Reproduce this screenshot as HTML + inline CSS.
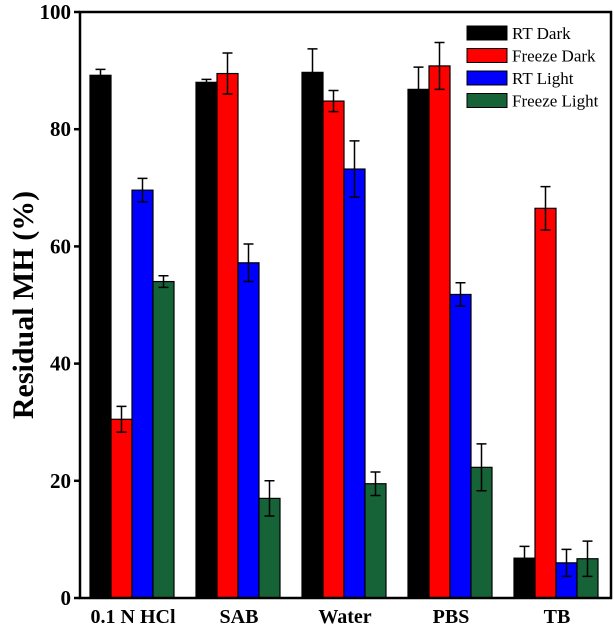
<!DOCTYPE html>
<html><head><meta charset="utf-8"><style>
body{margin:0;background:#fff}
svg{display:block;font-family:"Liberation Serif",serif}
</style></head><body>
<svg id="c" width="614" height="634"></svg>
<script>
const categories=["0.1 N HCl","SAB","Water","PBS","TB"];
const seriesNames=["RT Dark","Freeze Dark","RT Light","Freeze Light"];
const rtDark=[89.2,88,89.7,86.8,6.8];
const freezeDark=[30.5,89.5,84.8,90.8,66.5];
const rtLight=[69.6,57.2,73.2,51.8,6];
const freezeLight=[54,17,19.5,22.3,6.7];
const rtDarkErr=[1,0.5,4,3.8,2];
const freezeDarkErr=[2.2,3.5,1.8,4,3.7];
const rtLightErr=[2,3.2,4.8,2,2.3];
const freezeLightErr=[1,3,2,4,3];
const yTicks=[0,20,40,60,80,100];
const colors=["#000000","#ff0000","#0000ff","#176338"];
const values=[rtDark,freezeDark,rtLight,freezeLight];
const errs=[rtDarkErr,freezeDarkErr,rtLightErr,freezeLightErr];

const NS="http://www.w3.org/2000/svg",svg=document.getElementById('c');
const X0=80,X1=611,Y0=598,Y1=12;
const y=v=>Y0-(v/100)*(Y0-Y1);
const bw=21;
const gs=i=>90+i*106;
function mk(t,a,p){const e=document.createElementNS(NS,t);for(const k in a)e.setAttribute(k,a[k]);(p||svg).appendChild(e);return e;}

values.forEach((vals,s)=>{
  vals.forEach((v,i)=>{
    const x=gs(i)+s*bw;
    const r=mk('rect',{x:x,y:y(v),width:bw,height:Y0-y(v),fill:colors[s],stroke:'#000','stroke-width':1.2});
    
    
    const e=errs[s][i],m=x+bw/2;
    const g=mk('path',{d:`M${m},${y(v+e)}V${y(v-e)}M${m-5},${y(v+e)}H${m+5}M${m-5},${y(v-e)}H${m+5}`,stroke:'#000','stroke-width':1.5,fill:'none'});
    
    
  });
});
const f=mk('rect',{x:X0,y:Y1,width:X1-X0,height:Y0-Y1,fill:'none',stroke:'#000','stroke-width':2.5});


yTicks.forEach(t=>{
  mk('line',{x1:X0-6,x2:X0,y1:y(t),y2:y(t),stroke:'#000','stroke-width':2.5});
  const l=mk('text',{x:X0-9,y:y(t)+7,'text-anchor':'end','font-size':21,'font-weight':'bold'});
  l.textContent=t;
  
  
});
categories.forEach((c,i)=>{
  const l=mk('text',{x:gs(i)+43,y:623,'text-anchor':'middle','font-size':20,'font-weight':'bold'});
  l.textContent=c;
  
  
});
const yt=mk('text',{x:0,y:0,transform:'translate(33,305) rotate(-90)','text-anchor':'middle','font-size':30,'font-weight':'bold'});
yt.textContent='Residual MH (%)';


seriesNames.forEach((n,s)=>{
  const yy=26+s*22.5;
  const sw=mk('rect',{x:467,y:yy,width:40,height:14,fill:colors[s],stroke:'#000','stroke-width':1});
  
  
  const t=mk('text',{x:512,y:yy+13,'font-size':17});
  t.textContent=n;
  
  
});
</script>
</body></html>
